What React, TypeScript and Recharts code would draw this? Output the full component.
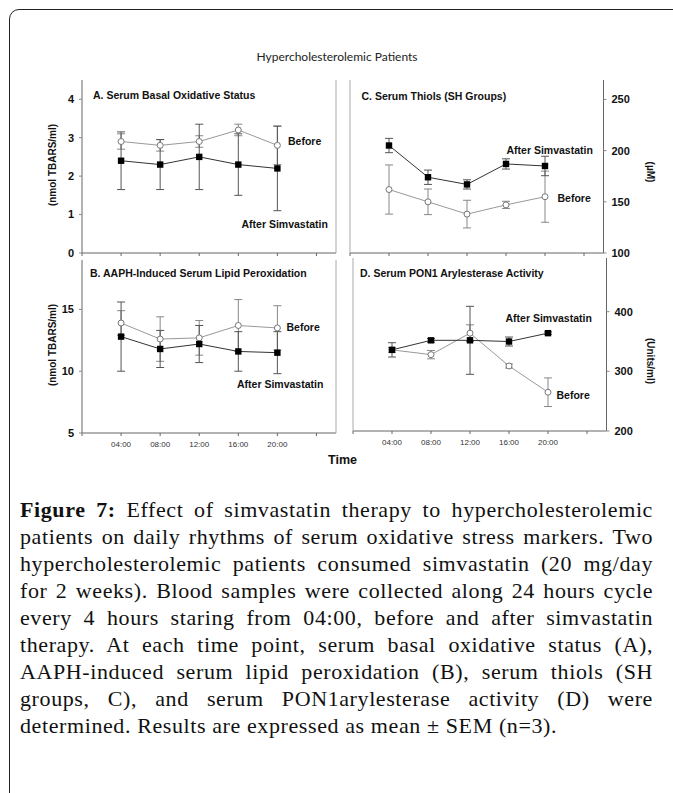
import React from 'react';
import { LineChart, Line, XAxis, YAxis, ErrorBar } from 'recharts';

// ---------- data ----------
const hours = [4, 8, 12, 16, 20];
const hourLabels = ['04:00', '08:00', '12:00', '16:00', '20:00'];
const xTicks = [0, 4, 8, 12, 16, 20, 24];

// A. Serum Basal Oxidative Status (nmol TBARS/ml)
const aBefore = [2.9, 2.8, 2.9, 3.2, 2.8];
const aBeforeErr = [0.2, 0.15, 0.15, 0.15, 0.5];
const aAfter = [2.4, 2.3, 2.5, 2.3, 2.2];
const aAfterErr = [0.75, 0.65, 0.85, 0.8, 1.1];
const aTicks = [0, 1, 2, 3, 4];

// B. AAPH-Induced Serum Lipid Peroxidation (nmol TBARS/ml)
const bBefore = [13.9, 12.6, 12.7, 13.7, 13.5];
const bBeforeErr = [1.0, 1.8, 1.4, 2.1, 1.8];
const bAfter = [12.8, 11.8, 12.2, 11.6, 11.5];
const bAfterErr = [2.8, 1.5, 1.5, 1.6, 1.7];
const bTicks = [5, 10, 15];

// C. Serum Thiols (µM)
const cBefore = [162, 150, 138, 147, 155];
const cBeforeErr = [24, 12.5, 13.5, 3.5, 25];
const cAfter = [205, 174, 167, 187, 185];
const cAfterErr = [7, 7, 4.5, 5, 9.5];
const cTicks = [100, 150, 200, 250];

// D. Serum PON1 Arylesterase Activity (Units/ml)
const dBefore = [336, 328, 364, 309, 265];
const dBeforeErr = [4, 7, 14, 3.5, 24];
const dAfter = [336, 352, 352, 350, 364];
const dAfterErr = [12, 3, 57, 7.5, 2];
const dTicks = [200, 300, 400];

const captionLines = [
  'Effect of simvastatin therapy to hypercholesterolemic',
  'patients on daily rhythms of serum oxidative stress markers. Two',
  'hypercholesterolemic patients consumed simvastatin (20 mg/day',
  'for 2 weeks). Blood samples were collected along 24 hours cycle',
  'every 4 hours staring from 04:00, before and after simvastatin',
  'therapy. At each time point, serum basal oxidative status (A),',
  'AAPH-induced serum lipid peroxidation (B), serum thiols (SH',
  'groups, C), and serum PON1arylesterase activity (D) were',
  'determined. Results are expressed as mean \u00b1 SEM (n=3).',
];

const buildRows = (before: number[], beforeErr: number[], after: number[], afterErr: number[]) =>
  hours.map((h, i) => ({ h, before: before[i], beforeErr: beforeErr[i], after: after[i], afterErr: afterErr[i] }));

const SANS = '"Liberation Sans", Arial, Helvetica, sans-serif';

const squareDot = (p: any) => {
  const { cx, cy, index } = p;
  if (cx == null || cy == null) return <g key={`sq-${index}`} />;
  return <rect key={`sq-${index}`} x={cx - 3.2} y={cy - 3.2} width={6.4} height={6.4} fill="#000" />;
};

type PanelProps = {
  rows: any[];
  domain: [number, number];
  ticks: number[];
  mainSide: 'left' | 'right';
  showXLabels: boolean;
  left: number;
  top: number;
  width: number;
  height: number;
  leftW: number;
  rightW: number;
};

const Panel = ({ rows, domain, ticks, mainSide, showXLabels, left, top, width, height, leftW, rightW }: PanelProps) => {
  const labelFmt = (v: number) => {
    if (!showXLabels) return '';
    const i = hours.indexOf(v);
    return i >= 0 ? hourLabels[i] : '';
  };
  const mainAxisColor = '#666';
  const borderColor = '#aaa';
  return (
    <div style={{ position: 'absolute', left, top }}>
      <LineChart
        width={width}
        height={height}
        data={rows}
        margin={{ top: 10, right: 0, bottom: 0, left: 0 }}
        style={{ fontFamily: SANS }}
      >
        <XAxis
          dataKey="h"
          type="number"
          domain={[0, 26]}
          ticks={xTicks}
          interval={0}
          tickFormatter={labelFmt}
          tickSize={3}
          tickMargin={5}
          height={30}
          axisLine={{ stroke: mainAxisColor }}
          tickLine={{ stroke: mainAxisColor }}
          tick={{ fontSize: 8, fill: '#333' }}
        />
        <XAxis
          xAxisId="top"
          orientation="top"
          dataKey="h"
          type="number"
          domain={[0, 26]}
          tick={false}
          tickLine={false}
          height={0}
          axisLine={{ stroke: borderColor }}
        />
        <YAxis
          yAxisId="L"
          orientation="left"
          type="number"
          domain={domain}
          ticks={ticks}
          interval={0}
          width={leftW}
          tickSize={3}
          tickMargin={5}
          tickFormatter={(v: number) => (mainSide === 'left' ? String(v) : '')}
          axisLine={{ stroke: mainSide === 'left' ? mainAxisColor : borderColor }}
          tickLine={{ stroke: mainSide === 'left' ? '#888' : borderColor }}
          tick={{ fontSize: 11, fontWeight: 'bold', fill: '#111' }}
        />
        <YAxis
          yAxisId="R"
          orientation="right"
          type="number"
          domain={domain}
          ticks={ticks}
          interval={0}
          width={rightW}
          tickSize={3}
          tickMargin={5}
          tickFormatter={(v: number) => (mainSide === 'right' ? String(v) : '')}
          axisLine={{ stroke: mainSide === 'right' ? mainAxisColor : borderColor }}
          tickLine={{ stroke: mainSide === 'right' ? '#888' : borderColor }}
          tick={{ fontSize: 11, fontWeight: 'bold', fill: '#111' }}
        />
        <Line
          yAxisId={mainSide === 'left' ? 'L' : 'R'}
          dataKey="before"
          stroke="#999"
          strokeWidth={1}
          dot={{ r: 3, fill: '#fff', stroke: '#777', strokeWidth: 1 }}
          isAnimationActive={false}
        >
          <ErrorBar dataKey="beforeErr" direction="y" width={4} stroke="#888" strokeWidth={1} />
        </Line>
        <Line
          yAxisId={mainSide === 'left' ? 'L' : 'R'}
          dataKey="after"
          stroke="#333"
          strokeWidth={1}
          dot={squareDot}
          isAnimationActive={false}
        >
          <ErrorBar dataKey="afterErr" direction="y" width={4} stroke="#555" strokeWidth={1} />
        </Line>
      </LineChart>
    </div>
  );
};

const T = ({ x, y, children, size = 10.5, bold = true, center = false, rotate = 0, font = SANS, color = '#111' }: any) => (
  <div
    style={{
      position: 'absolute',
      left: x,
      top: y,
      transform: `${center ? 'translate(-50%, -50%)' : 'translateY(-50%)'}${rotate ? ` rotate(${rotate}deg)` : ''}`,
      fontFamily: font,
      fontSize: size,
      fontWeight: bold ? 'bold' : 'normal',
      lineHeight: 1,
      whiteSpace: 'nowrap',
      color,
    }}
  >
    {children}
  </div>
);

export default function App() {
  const rowsA = buildRows(aBefore, aBeforeErr, aAfter, aAfterErr);
  const rowsB = buildRows(bBefore, bBeforeErr, bAfter, bAfterErr);
  const rowsC = buildRows(cBefore, cBeforeErr, cAfter, cAfterErr);
  const rowsD = buildRows(dBefore, dBeforeErr, dAfter, dAfterErr);
  return (
    <div style={{ position: 'absolute', left: 0, top: 0, width: 673, height: 793, overflow: 'hidden', background: '#fff' }}>
      {/* outer frame */}
      <div
        style={{
          position: 'absolute',
          left: 9,
          top: 9,
          width: 720,
          height: 900,
          border: '1.5px solid #222',
          borderRadius: 10,
          boxSizing: 'border-box',
        }}
      />
      <T x={337} y={57} size={12} bold={false} center font='Lato, "Open Sans", sans-serif' color="#222">
        Hypercholesterolemic Patients
      </T>

      <Panel rows={rowsA} domain={[0, 4.5]} ticks={aTicks} mainSide="left" showXLabels={false}
        left={40} top={70} width={306} height={213} leftW={42} rightW={10} />
      <Panel rows={rowsB} domain={[5, 19]} ticks={bTicks} mainSide="left" showXLabels
        left={40} top={250} width={306} height={213} leftW={42} rightW={10} />
      <Panel rows={rowsC} domain={[100, 269]} ticks={cTicks} mainSide="right" showXLabels={false}
        left={340} top={70} width={303.5} height={213} leftW={10} rightW={40} />
      <Panel rows={rowsD} domain={[200, 490]} ticks={dTicks} mainSide="right" showXLabels
        left={342.5} top={248} width={303.5} height={213} leftW={10} rightW={40} />

      {/* panel titles */}
      <T x={93} y={95}>A. Serum Basal Oxidative Status</T>
      <T x={90} y={273}>B. AAPH-Induced Serum Lipid Peroxidation</T>
      <T x={361.5} y={96}>C. Serum Thiols (SH Groups)</T>
      <T x={360} y={273}>D. Serum PON1 Arylesterase Activity</T>

      {/* series annotations */}
      <T x={288} y={141}>Before</T>
      <T x={241.5} y={223.5}>After Simvastatin</T>
      <T x={286.5} y={327}>Before</T>
      <T x={237} y={384}>After Simvastatin</T>
      <T x={506.5} y={149.5}>After Simvastatin</T>
      <T x={557.5} y={198}>Before</T>
      <T x={505.5} y={317.5}>After Simvastatin</T>
      <T x={556.5} y={395}>Before</T>

      {/* axis titles */}
      <T x={53} y={165} size={10} center rotate={-90}>(nmol TBARS/ml)</T>
      <T x={53} y={345} size={10} center rotate={-90}>(nmol TBARS/ml)</T>
      <T x={650} y={171.5} size={10} center rotate={90}>({'\u00b5'}M)</T>
      <T x={650} y={361} size={10} center rotate={90}>(Units/ml)</T>
      <T x={328} y={459.5} size={12.5}>Time</T>

      {/* caption */}
      <div
        style={{
          position: 'absolute',
          left: 20,
          top: 496,
          width: 633,
          fontFamily: '"Liberation Serif", "Times New Roman", serif',
          fontSize: 22,
          letterSpacing: 0.6,
          lineHeight: '27px',
          color: '#111',
        }}
      >
        {captionLines.map((line, i) => (
          <div
            key={i}
            style={{
              height: 27,
              textAlign: 'justify',
              textAlignLast: i === captionLines.length - 1 ? 'left' : 'justify',
              whiteSpace: 'nowrap',
            }}
          >
            {i === 0 ? (
              <>
                <b>Figure 7:</b> {line}
              </>
            ) : (
              line
            )}
          </div>
        ))}
      </div>
    </div>
  );
}
